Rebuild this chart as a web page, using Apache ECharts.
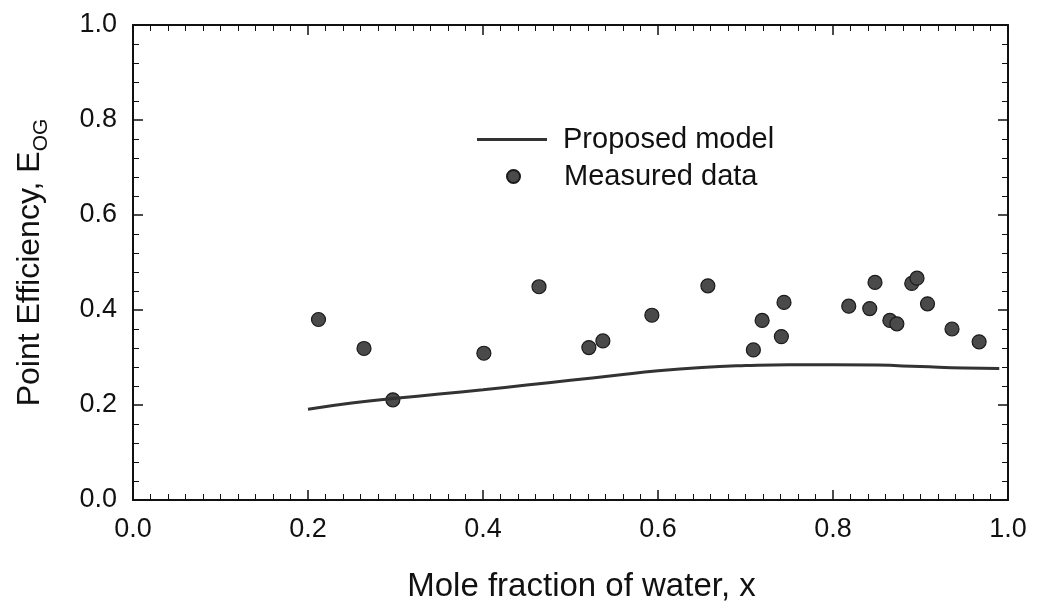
<!DOCTYPE html>
<html>
<head>
<meta charset="utf-8">
<script src="https://cdn.jsdelivr.net/npm/echarts@6/dist/echarts.min.js"></script>
<style>
  html, body { margin: 0; padding: 0; background: #fff; }
  #graph { width: 1051px; height: 602px; }
</style>
</head>
<body>
<div id="graph"></div>
<script>
// model curve
var modelX = [0.20, 0.25, 0.30, 0.35, 0.40, 0.45, 0.50, 0.55, 0.60, 0.65, 0.70, 0.75, 0.80, 0.85, 0.90, 0.95, 0.99];
var modelY = [0.191, 0.204, 0.214, 0.223, 0.232, 0.242, 0.252, 0.262, 0.272, 0.279, 0.283, 0.285, 0.285, 0.284, 0.281, 0.278, 0.277];

// measured points
var measuredX = [0.212, 0.264, 0.297, 0.401, 0.464, 0.521, 0.537, 0.593, 0.657, 0.709, 0.719, 0.741, 0.744,
                 0.818, 0.842, 0.848, 0.865, 0.873, 0.890, 0.896, 0.908, 0.936, 0.967];
var measuredY = [0.380, 0.319, 0.211, 0.309, 0.449, 0.321, 0.335, 0.389, 0.451, 0.316, 0.378, 0.344, 0.416,
                 0.408, 0.403, 0.458, 0.378, 0.371, 0.456, 0.467, 0.413, 0.360, 0.333];

var seriesNames = ['Proposed model', 'Measured data'];
var xTitle = 'Mole fraction of water, x';

var FONT = '"Liberation Sans", Arial, sans-serif';
var INK = '#111';

var chart = echarts.init(document.getElementById('graph'), null, { renderer: 'canvas' });

var zip = (xs, ys) => xs.map((x, i) => [x, ys[i]]);

var fmt = v => v.toFixed(1);

var frameAxis = (extra) => Object.assign({
  type: 'value',
  min: 0,
  max: 1,
  interval: 0.2,
  axisLine: { show: true, onZero: false, lineStyle: { color: INK, width: 2 } },
  axisTick: { show: true, inside: true, length: 10, lineStyle: { color: INK, width: 1.5 } },
  minorTick: { show: true, length: 6, lineStyle: { color: INK, width: 1 } },
  splitLine: { show: false },
  minorSplitLine: { show: false },
  axisLabel: { show: false }
}, extra);

var option = {
  backgroundColor: '#fff',
  animation: false,
  textStyle: { fontFamily: FONT, color: INK },
  grid: { left: 133, right: 43, top: 25, bottom: 102, containLabel: false, outerBoundsMode: 'none' },
  legend: [
    {
      data: [{ name: seriesNames[0], icon: 'rect' }],
      left: 472,
      top: 120,
      itemWidth: 70,
      itemHeight: 3,
      textStyle: { fontFamily: FONT, fontSize: 29, color: INK, padding: [0, 0, 0, 11] }
    },
    {
      data: [{ name: seriesNames[1], icon: 'circle' }],
      left: 501,
      top: 157,
      itemWidth: 13,
      itemHeight: 13,
      textStyle: { fontFamily: FONT, fontSize: 29, color: INK, padding: [0, 0, 0, 39] }
    }
  ],
  xAxis: [
    frameAxis({
      position: 'bottom',
      name: xTitle,
      nameLocation: 'middle',
      nameGap: 70,
      nameTextStyle: { fontFamily: FONT, fontSize: 33, color: INK, padding: [0, 0, 0, 22] },
      minorTick: { show: true, splitNumber: 10, length: 6, lineStyle: { color: INK, width: 1 } },
      axisLabel: { show: true, margin: 16, fontFamily: FONT, fontSize: 27, color: INK, formatter: fmt }
    }),
    frameAxis({
      position: 'top',
      minorTick: { show: true, splitNumber: 10, length: 6, lineStyle: { color: INK, width: 1 } }
    })
  ],
  yAxis: [
    frameAxis({
      position: 'left',
      name: '{a|Point Efficiency, E}{b|OG}',
      nameLocation: 'middle',
      nameGap: 87,
      nameTextStyle: {
        rich: {
          a: { fontFamily: FONT, fontSize: 32, color: INK, verticalAlign: 'bottom', lineHeight: 38 },
          b: { fontFamily: FONT, fontSize: 21, color: INK, verticalAlign: 'bottom', lineHeight: 24, padding: [0, 0, -6, 0] }
        }
      },
      minorTick: { show: true, splitNumber: 5, length: 6, lineStyle: { color: INK, width: 1 } },
      axisLabel: { show: true, margin: 16, fontFamily: FONT, fontSize: 27, color: INK, formatter: fmt }
    }),
    frameAxis({
      position: 'right',
      minorTick: { show: true, splitNumber: 5, length: 6, lineStyle: { color: INK, width: 1 } }
    })
  ],
  series: [
    {
      name: seriesNames[0],
      type: 'line',
      data: zip(modelX, modelY),
      smooth: true,
      symbol: 'none',
      lineStyle: { color: '#333', width: 3 },
      itemStyle: { color: '#333' }
    },
    {
      name: seriesNames[1],
      type: 'scatter',
      data: zip(measuredX, measuredY),
      symbol: 'circle',
      symbolSize: 14,
      itemStyle: { color: '#4a4a4a', borderColor: '#1a1a1a', borderWidth: 1.2, opacity: 1 }
    }
  ]
};

chart.setOption(option);
</script>
</body>
</html>
